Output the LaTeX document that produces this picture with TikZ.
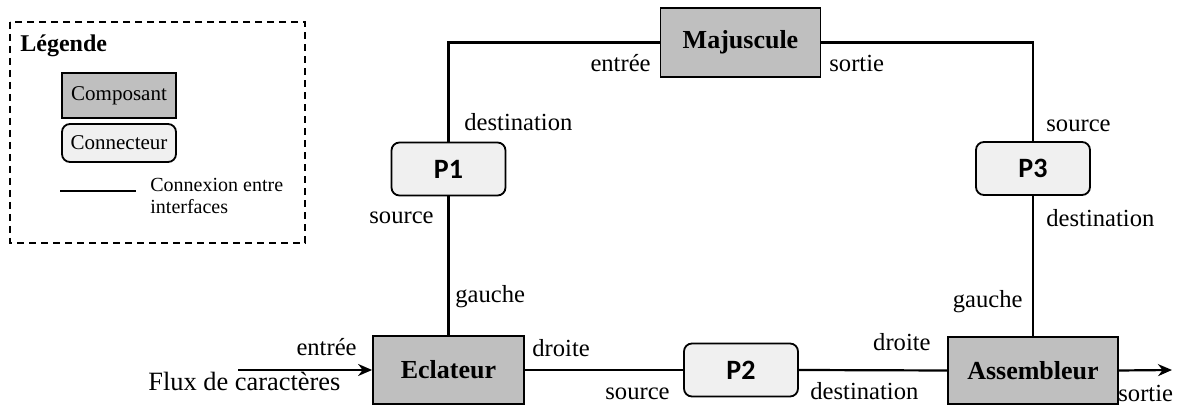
\documentclass[tikz,border=0pt]{standalone}
\usepackage{fontspec}
\setmainfont{Liberation Serif}
\newfontfamily\pfont{Carlito}
\usetikzlibrary{arrows.meta, calc, positioning}

\begin{document}
\begin{tikzpicture}[
    x=0.5pt, y=-0.5pt,
    composant/.style={draw, line width=0.9pt, fill=black!25, inner sep=0pt,
        font=\fontsize{13}{15}\selectfont\bfseries},
    connecteur/.style={draw, line width=0.9pt, fill=black!6, rounded corners=4pt,
        inner sep=0pt, minimum width=57pt, minimum height=26.5pt,
        font=\pfont\fontsize{14}{16}\selectfont\bfseries},
    lien/.style={line width=1.1pt},
    vec/.style={-{Stealth[length=7pt, width=6pt]}, line width=1.1pt},
    port/.style={inner sep=0pt, font=\rmfamily\fontsize{12.3}{14}\selectfont},
    legende/.style={draw, dashed, dash pattern=on 3.5pt off 2.5pt, line width=0.8pt}
]
\useasboundingbox (0,0) rectangle (1191,405);

% Legende
\draw[legende] (10,22) rectangle (305,243);
\node[anchor=base west, inner sep=0pt, font=\fontsize{12}{14}\selectfont\bfseries]
    (leg) at (20,52) {Légende};
\node[composant, minimum width=57pt, minimum height=22.5pt,
    font=\fontsize{10.5}{12}\selectfont] (legcomp) at (119,95.5) {Composant};
\node[connecteur, minimum height=19pt,
    font=\rmfamily\fontsize{10.5}{12}\selectfont] (legconn) at (119,143) {Connecteur};
\coordinate (legl1) at (60,191);
\coordinate (legl2) at (136,191);
\draw[lien] (legl1) -- (legl2);
\node[anchor=north west, inner sep=0pt, align=left, font=\fontsize{10}{11}\selectfont]
    (legtxt) at (150,178) {Connexion entre\\interfaces};

% Composants
\node[composant, minimum width=80pt, minimum height=34.5pt] (maj) at (740.5,42.5) {Majuscule};
\node[composant, minimum width=75.5pt, minimum height=34pt] (eclat) at (448.5,370) {Eclateur};
\node[composant, minimum width=85pt, minimum height=33.5pt] (assemb) at (1033,370.5) {Assembleur};

% Connecteurs
\node[connecteur] (p1) at (448.5,169) {P1};
\node[connecteur] (p2) at (741,370) {P2};
\node[connecteur] (p3) at (1033,168.5) {P3};

% Connexions
\draw[lien] (maj.west) -| (p1.north);
\draw[lien] (p1.south) -- (eclat.north);
\draw[lien] (maj.east) -| (p3.north);
\draw[lien] (p3.south) -- (assemb.north);
\draw[lien] (eclat.east) -- (p2.west);
\draw[lien] (p2.east) -- (assemb.west);

% Entree et sortie
\coordinate (entree) at (238,370);
\coordinate (sortie) at (1172,370);
\draw[vec] (entree) -- (eclat.west);
\draw[vec] (assemb.east) -- (sortie);
\node[port, anchor=base west, font=\rmfamily\fontsize{13.2}{15}\selectfont] (flux) at (148,391) {Flux de caractères};

% Interfaces
\node[port, anchor=base east] (majin) at (651,72) {entrée};
\node[port, anchor=base west] (majout) at (829,72) {sortie};
\node[port, anchor=base west] (p1dst) at (464,131) {destination};
\node[port, anchor=base east] (p1src) at (434,224) {source};
\node[port, anchor=base west] (eclg) at (455,303) {gauche};
\node[port, anchor=base east] (eclin) at (357,356) {entrée};
\node[port, anchor=base west] (ecld) at (532,357) {droite};
\node[port, anchor=base east] (p2src) at (670,400) {source};
\node[port, anchor=base west] (p2dst) at (810,400) {destination};
\node[port, anchor=base east] (assd) at (931,351) {droite};
\node[port, anchor=base east] (assg) at (1023,308) {gauche};
\node[port, anchor=base west] (assout) at (1118,402) {sortie};
\node[port, anchor=base west] (p3src) at (1046,132) {source};
\node[port, anchor=base west] (p3dst) at (1046,227) {destination};

\end{tikzpicture}
\end{document}
